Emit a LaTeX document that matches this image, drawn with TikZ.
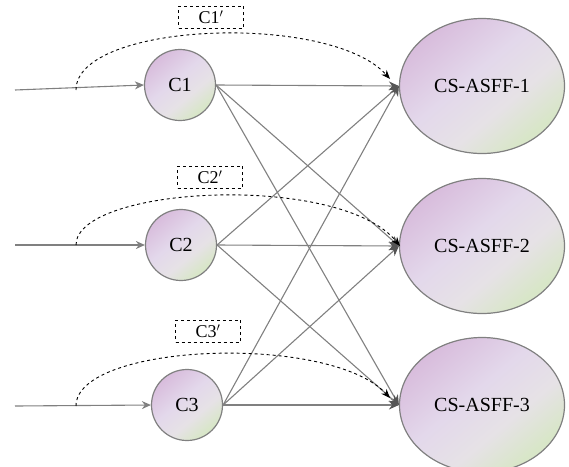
\documentclass[tikz,border=0pt]{standalone}
\usepackage{fontspec}
\setmainfont{Liberation Serif}
\usetikzlibrary{arrows.meta,shapes.geometric}
\definecolor{pinkc}{HTML}{D8BCDC}
\definecolor{midc}{HTML}{E3D8EB}
\definecolor{midd}{HTML}{E6E2E6}
\definecolor{greenc}{HTML}{D8E6C8}
\definecolor{edgec}{HTML}{808080}
\definecolor{tipc}{HTML}{555555}
\pgfdeclareverticalshading{nodeshade}{100bp}{color(0bp)=(greenc); color(27bp)=(greenc); color(40bp)=(midd); color(55bp)=(midc); color(75bp)=(pinkc); color(100bp)=(pinkc)}
\begin{document}
\begin{tikzpicture}[x=1pt,y=-1pt,
  shadefill/.style={shading=nodeshade,shading angle=40},
  cnode/.style={circle,draw=edgec,line width=1.2pt,minimum size=71pt,inner sep=0pt,shadefill,font=\fontsize{20}{20}\selectfont},
  enode/.style={ellipse,draw=edgec,line width=1.2pt,minimum width=165pt,minimum height=135pt,inner sep=0pt,shadefill,font=\fontsize{20}{20}\selectfont},
  lbox/.style={draw,dashed,line width=0.6pt,minimum width=65pt,minimum height=22pt,inner sep=0pt,font=\fontsize{18}{18}\selectfont},
  link/.style={draw=edgec,line width=1.1pt,-{Stealth[length=9pt,width=8pt]},color=edgec},
  tolink/.style={draw=edgec,line width=1.1pt,-{Stealth[length=10pt,width=9pt,color=tipc]}},
  skip/.style={draw=black,dashed,line width=0.9pt,-{Stealth[length=9pt,width=7pt]}}
]
\useasboundingbox (0,0) rectangle (569,466);
% circles
\node[cnode] (c1) at (180,85) {C1};
\node[cnode] (c2) at (181,245) {C2};
\node[cnode] (c3) at (187,405) {C3};
% ellipses
\node[enode] (e1) at (482,86) {CS-ASFF-1};
\node[enode] (e2) at (482,246) {CS-ASFF-2};
\node[enode] (e3) at (482,405) {CS-ASFF-3};
% inputs
\coordinate (i1) at (15,90);
\coordinate (i2) at (15,245);
\coordinate (i3) at (15,406);
\coordinate (s1) at (76,90);
\coordinate (s2) at (76,245);
\coordinate (s3) at (76,406);
\draw[link] (i1) -- (c1.west);
\draw[link] (i2) -- (c2.west);
\draw[link] (i3) -- (c3.west);
% full connections
\foreach \a in {c1,c2,c3}{
  \foreach \b in {e1,e2,e3}{
    \draw[tolink] (\a.east) -- (\b.west);
  }
}
% skip connections
\coordinate (t1) at (390,79);
\coordinate (t2) at (400,246);
\coordinate (t3) at (390,398);
\draw[skip] (s1) .. controls (76,22) and (330,12) .. (t1);
\draw[skip] (s2) .. controls (76,186) and (340,172) .. (t2);
\draw[skip] (s3) .. controls (76,343) and (330,333) .. (t3);
% labels
\node[lbox] (l1) at (211,17) {C1$'$};
\node[lbox] (l2) at (210,177) {C2$'$};
\node[lbox] (l3) at (208,331) {C3$'$};
\end{tikzpicture}
\end{document}
